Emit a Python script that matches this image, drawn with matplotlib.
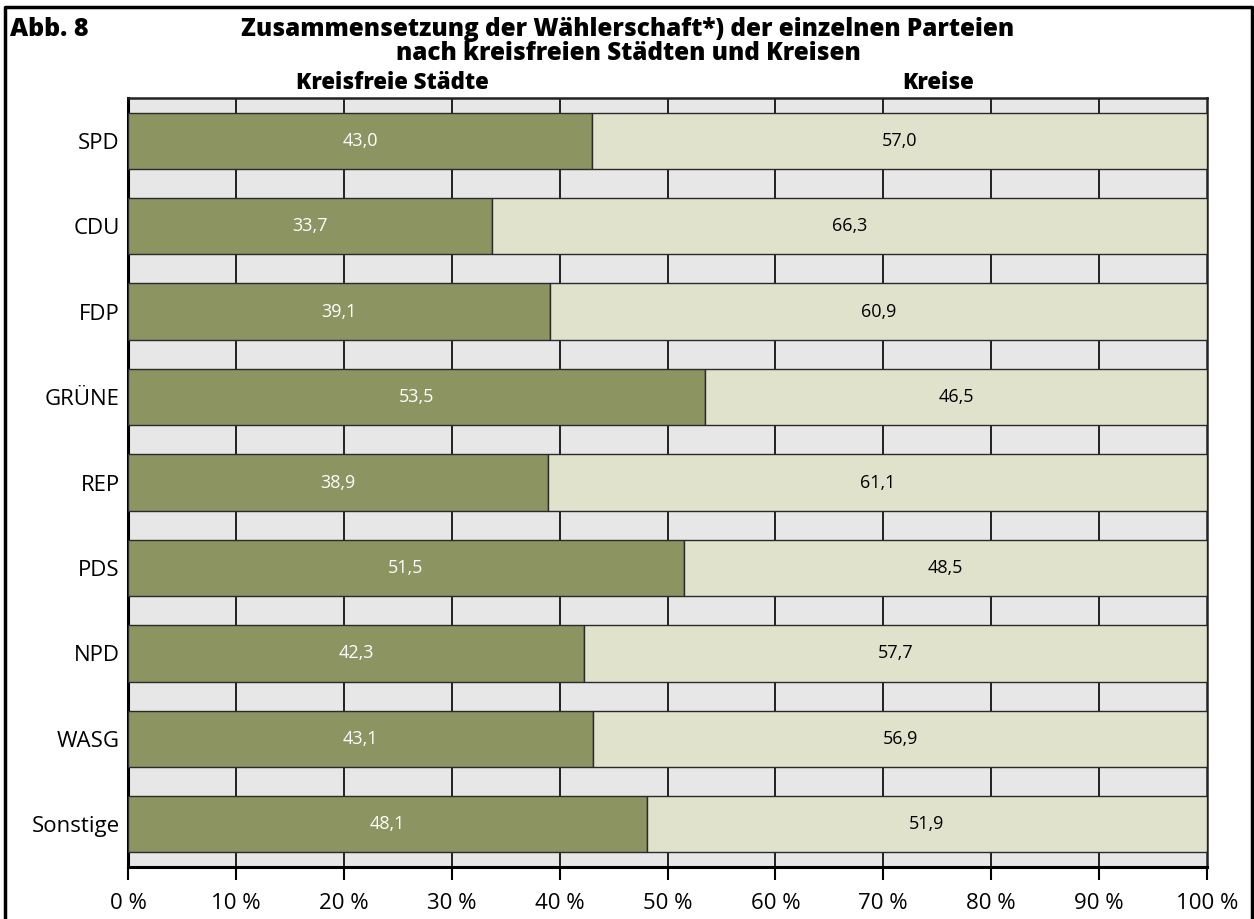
import numpy as np
import matplotlib.pyplot as plt
from matplotlib.lines import Line2D

plt.rcParams['font.family'] = ['Open Sans', 'DejaVu Sans']

# Data
parteien = ['SPD', 'CDU', 'FDP', 'GRÜNE', 'REP', 'PDS', 'NPD', 'WASG', 'Sonstige']
staedte = [43.0, 33.7, 39.1, 53.5, 38.9, 51.5, 42.3, 43.1, 48.1]
kreise = [57.0, 66.3, 60.9, 46.5, 61.1, 48.5, 57.7, 56.9, 51.9]
xticks = [0, 10, 20, 30, 40, 50, 60, 70, 80, 90, 100]
xlabels = ['0 %', '10 %', '20 %', '30 %', '40 %', '50 %', '60 %', '70 %', '80 %', '90 %', '100 %']

fig = plt.figure(figsize=(12.54, 9.19), dpi=100)
ax = fig.add_axes([128 / 1254, 1 - 867 / 919, (1207 - 128) / 1254, (867 - 98) / 919])
ax.set_facecolor('#e6e7e6')

y = np.arange(len(parteien))
ax.barh(y, staedte, height=0.66, color='#8c9462', edgecolor='#2a2a2a', linewidth=1, zorder=3)
ax.barh(y, kreise, left=staedte, height=0.66, color='#e1e2cb', edgecolor='#2a2a2a', linewidth=1, zorder=3)

for i in range(len(parteien)):
    ax.text(staedte[i] / 2, y[i], f'{staedte[i]:.1f}'.replace('.', ','),
            ha='center', va='center', color='white', fontsize=13, zorder=4)
    ax.text(staedte[i] + kreise[i] / 2, y[i], f'{kreise[i]:.1f}'.replace('.', ','),
            ha='center', va='center', color='black', fontsize=13, zorder=4)

for xv in xticks[1:-1]:
    ax.axvline(xv, color='black', linewidth=1.2, zorder=1)

ax.set_xlim(0, 100)
ax.set_ylim(8.5, -0.5)
ax.set_yticks(y)
ax.set_yticklabels(parteien, fontsize=16)
ax.set_xticks(xticks)
ax.set_xticklabels(xlabels, fontsize=16)
ax.tick_params(axis='y', length=0, pad=6)
ax.tick_params(axis='x', length=9, width=1.5, direction='out', pad=10)
for s in ['left', 'bottom']:
    ax.spines[s].set_linewidth(2.2)
for s in ['top', 'right']:
    ax.spines[s].set_linewidth(1.8)
    ax.spines[s].set_color('#222222')

# titles
fig.text(10 / 1254, 1 - 30 / 919, 'Abb. 8', fontsize=18, fontweight='heavy', va='center', ha='left')
fig.text(628 / 1254, 1 - 30 / 919, 'Zusammensetzung der Wählerschaft*) der einzelnen Parteien',
         fontsize=17.5, fontweight='heavy', va='center', ha='center')
fig.text(628 / 1254, 1 - 54 / 919, 'nach kreisfreien Städten und Kreisen',
         fontsize=17.5, fontweight='heavy', va='center', ha='center')
fig.text(392 / 1254, 1 - 83 / 919, 'Kreisfreie Städte', fontsize=16, fontweight='heavy', va='center', ha='center')
fig.text(938 / 1254, 1 - 83 / 919, 'Kreise', fontsize=16, fontweight='heavy', va='center', ha='center')

# frame
fx = [5 / 1254, 5 / 1254, 1252 / 1254, 1252 / 1254]
fy = [0, 1 - 7 / 919, 1 - 7 / 919, 0]
fig.add_artist(Line2D(fx, fy, transform=fig.transFigure, color='black', linewidth=2.5))

fig.savefig('out.png', dpi=100)
